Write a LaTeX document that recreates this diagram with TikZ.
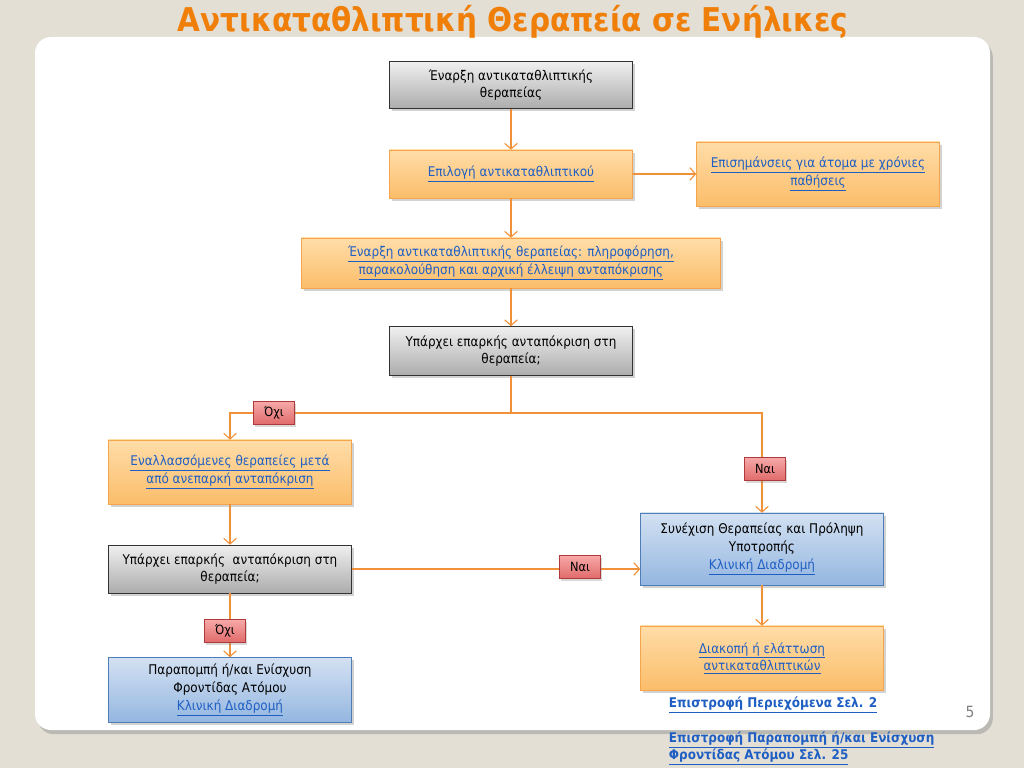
\documentclass[tikz,border=0pt]{standalone}
\usepackage{fontspec}
\setmainfont{DejaVu Sans Condensed}
\usetikzlibrary{arrows.meta,shadows}
\definecolor{bgc}{HTML}{E3DFD5}
\definecolor{titlec}{HTML}{F07F09}
\definecolor{arrc}{HTML}{F0913A}
\definecolor{linkc}{HTML}{1F5FC4}
\definecolor{orgtop}{HTML}{FFDDA8}
\definecolor{orgbot}{HTML}{FBBD6A}
\definecolor{orgline}{HTML}{F6A54A}
\definecolor{bluetop}{HTML}{D3E1F2}
\definecolor{bluebot}{HTML}{94B6E0}
\definecolor{blueline}{HTML}{4F7DB8}
\definecolor{redtop}{HTML}{F7A9A9}
\definecolor{redbot}{HTML}{E06A6A}
\definecolor{redline}{HTML}{B0393A}
\newcommand{\lnk}[1]{{\color{linkc}\underline{#1}}}
\tikzset{
  box/.style={draw, align=center, inner sep=2pt, minimum width=6.075cm, minimum height=1.2cm,
    font=\fontsize{9.5}{12.5}\selectfont,
    drop shadow={opacity=0.35, shadow xshift=1.5pt, shadow yshift=-2pt}},
  graybox/.style={box, draw=black!80, top color=gray!12, bottom color=gray!65},
  orgbox/.style={box, draw=orgline, top color=orgtop, bottom color=orgbot},
  bluebox/.style={box, draw=blueline, top color=bluetop, bottom color=bluebot},
  lbl/.style={draw=redline, top color=redtop, bottom color=redbot, minimum width=1.025cm,
    minimum height=0.575cm, inner sep=1pt, font=\fontsize{9}{10}\selectfont,
    drop shadow={opacity=0.3, shadow xshift=1pt, shadow yshift=-1.5pt}},
  conn/.style={draw=arrc, line width=0.8pt, -{Straight Barb[length=4pt,width=9pt]}},
  plain/.style={draw=arrc, line width=0.8pt}
}
\begin{document}
\begin{tikzpicture}[x=0.025cm,y=-0.025cm]
  \fill[bgc] (0,0) rectangle (1024,768);
  \useasboundingbox (0,0) rectangle (1024,768);
  \fill[white, rounded corners=0.4cm, drop shadow={opacity=0.4, shadow xshift=2pt, shadow yshift=-3pt}] (35,37) rectangle (990,730);
  \node[text=titlec, font=\fontsize{23.3}{26}\selectfont\bfseries] (title) at (513,22) {Αντικαταθλιπτική Θεραπεία σε Ενήλικες};

  % main column
  \node[graybox, minimum height=1.175cm] (start) at (511,85) {Έναρξη αντικαταθλιπτικής\\θεραπείας};
  \node[orgbox] (choice) at (511,174) {\lnk{Επιλογή αντικαταθλιπτικού}};
  \node[orgbox, minimum height=1.6cm] (notes) at (818,174) {\lnk{Επισημάνσεις για άτομα με χρόνιες}\\\lnk{παθήσεις}};
  \node[orgbox, minimum width=10.475cm, minimum height=1.25cm] (info) at (511,263) {\lnk{Έναρξη αντικαταθλιπτικής θεραπείας: πληροφόρηση,}\\\lnk{παρακολούθηση και αρχική έλλειψη ανταπόκρισης}};
  \node[graybox, minimum height=1.225cm] (resp) at (511,351) {Υπάρχει επαρκής ανταπόκριση στη\\θεραπεία;};
  \coordinate (split) at (511,413);

  % left branch
  \node[orgbox, minimum height=1.6cm] (alter) at (230,472) {\lnk{Εναλλασσόμενες θεραπείες μετά}\\\lnk{από ανεπαρκή ανταπόκριση}};
  \node[graybox] (resptwo) at (230,569) {Υπάρχει επαρκής \ ανταπόκριση στη\\θεραπεία;};
  \node[bluebox, minimum height=1.625cm] (refer) at (230,690) {Παραπομπή ή/και Ενίσχυση\\Φροντίδας Ατόμου\\\lnk{Κλινική Διαδρομή}};

  % right branch
  \node[bluebox, minimum height=1.8cm] (cont) at (762,549) {Συνέχιση Θεραπείας και Πρόληψη\\Υποτροπής\\\lnk{Κλινική Διαδρομή}};
  \node[orgbox, minimum height=1.6cm] (stop) at (762,658) {\lnk{Διακοπή ή ελάττωση}\\\lnk{αντικαταθλιπτικών}};

  % connectors
  \draw[conn] (start) -- (choice);
  \draw[conn] (choice) -- (notes);
  \draw[conn] (choice) -- (info);
  \draw[conn] (info) -- (resp);
  \draw[plain] (resp) -- (split);
  \draw[conn] (split) -| (alter.north);
  \draw[conn] (split) -| (cont.north);
  \draw[conn] (alter) -- (resptwo);
  \draw[conn] (resptwo.east) -- (cont.west |- resptwo.east);
  \draw[conn] (resptwo) -- (refer);
  \draw[conn] (cont) -- (stop);

  % answer labels
  \node[lbl] (nofirst) at (274,413) {Όχι};
  \node[lbl] (yesfirst) at (765,469) {Ναι};
  \node[lbl] (yestwo) at (580,567) {Ναι};
  \node[lbl] (notwo) at (225,631) {Όχι};

  % back links
  \node[anchor=west, font=\fontsize{9.5}{12}\selectfont\bfseries] (backone) at (664,705) {\lnk{Επιστροφή Περιεχόμενα Σελ. 2}};
  \node[anchor=north west, align=left, font=\fontsize{9.5}{12}\selectfont\bfseries] (backtwo) at (664,727) {\lnk{Επιστροφή Παραπομπή ή/και Ενίσχυση}\\\lnk{Φροντίδας Ατόμου Σελ. 25}};
  \node[text=gray, font=\fontsize{11}{12}\selectfont] (page) at (970,712) {5};
\end{tikzpicture}
\end{document}
